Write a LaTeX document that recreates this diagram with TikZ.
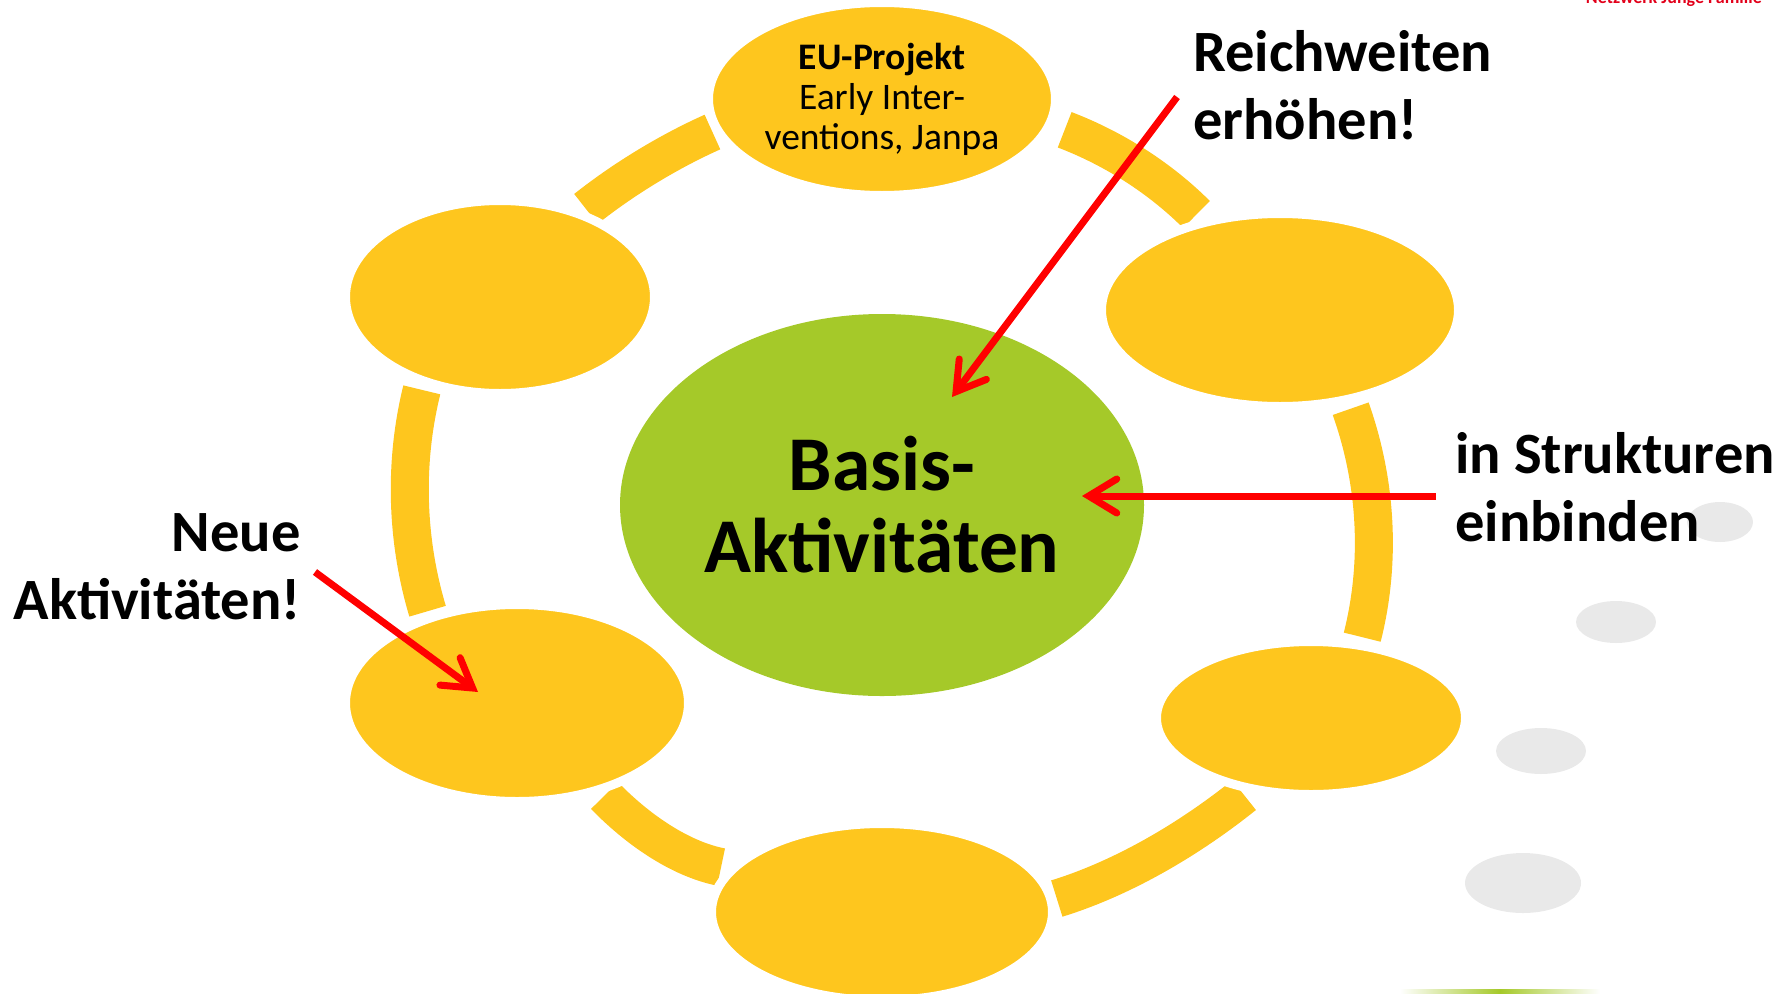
\documentclass[tikz,border=0pt]{standalone}
\usepackage{fontspec}
\setmainfont{Carlito}
\usetikzlibrary{arrows.meta,shapes.geometric}
\definecolor{ringyellow}{RGB}{254,198,30}
\definecolor{basegreen}{RGB}{165,201,41}
\definecolor{arrowred}{RGB}{255,0,0}
\definecolor{shadowgray}{RGB}{233,233,233}
\definecolor{logored}{RGB}{226,0,26}
\begin{document}
\begin{tikzpicture}[x=1pt,y=-1pt,
  petal/.style={ellipse, fill=ringyellow, draw=white, line width=9pt, inner sep=0pt, align=center},
  ringband/.style={draw=ringyellow, line width=38pt, line cap=butt, shorten <=5pt, shorten >=5pt},
  redarrow/.style={draw=arrowred, line width=7pt, -{Straight Barb[length=28pt,width=34pt,line cap=round,line join=miter]}},
  callout/.style={font=\bfseries\fontsize{58.5}{68}\selectfont, inner sep=0pt},
  dotshadow/.style={fill=shadowgray}
  ]
\useasboundingbox (0,0) rectangle (1787,993);
\clip (0,0) rectangle (1787,993);

% centres of the ring elements
\coordinate (cTop) at (882,99);
\coordinate (cUR) at (1280,310);
\coordinate (cLR) at (1311,718);
\coordinate (cBot) at (882,912);
\coordinate (cLL) at (517,703);
\coordinate (cUL) at (500,297);

% ring segment end points
\coordinate (tlA) at (582,212);  \coordinate (tlB) at (717,130);
\coordinate (trA) at (1060,128); \coordinate (trB) at (1200,218);
\coordinate (rA)  at (1349,404); \coordinate (rB)  at (1361,642);
\coordinate (brA) at (1248,792); \coordinate (brB) at (1052,900);
\coordinate (blA) at (726,868);  \coordinate (blB) at (601,792);
\coordinate (lA)  at (429,616);  \coordinate (lB)  at (423,385);

% ring segments
\draw[ringband] (tlA) .. controls (625,178) and (670,151) .. (tlB);
\draw[ringband] (trA) .. controls (1115,149) and (1161,179) .. (trB);
\draw[ringband] (rA) .. controls (1377,483) and (1381,563) .. (rB);
\draw[ringband] (brA) .. controls (1183,844) and (1117,880) .. (brB);
\draw[ringband] (blA) .. controls (685,860) and (643,835) .. (blB);
\draw[ringband] (lA) .. controls (406,539) and (404,462) .. (lB);

% petals
\node[petal, minimum width=347pt, minimum height=193pt, font=\fontsize{37.5}{40}\selectfont] (top) at (cTop)
  {\textbf{EU-Projekt}\\Early Inter-\\ventions, Janpa};
\node[petal, minimum width=309pt, minimum height=193pt] (ul) at (cUL) {};
\node[petal, minimum width=357pt, minimum height=193pt] (ur) at (cUR) {};
\node[petal, minimum width=343pt, minimum height=197pt] (ll) at (cLL) {};
\node[petal, minimum width=309pt, minimum height=153pt] (lr) at (cLR) {};
\node[petal, minimum width=341pt, minimum height=177pt] (bot) at (cBot) {};

% centre
\node[ellipse, fill=basegreen, inner sep=0pt, minimum width=524pt, minimum height=382pt,
      align=center, font=\bfseries\fontsize{77.5}{82}\selectfont] (center) at (882,505)
  {Basis-\\Aktivitäten};

% decorative grey dots
\fill[dotshadow] (1720,522) ellipse (33pt and 20pt);
\fill[dotshadow] (1616,622) ellipse (40pt and 21pt);
\fill[dotshadow] (1541,751) ellipse (45pt and 23pt);
\fill[dotshadow] (1523,883) ellipse (58pt and 30pt);

% labels (base anchor = baseline of last line)
\node[callout, anchor=base west, align=left] (lblReich) at (1193,139) {Reichweiten\\erhöhen!};
\node[callout, anchor=base west, align=left] (lblStruk) at (1455,541) {in Strukturen\\einbinden};
\node[callout, anchor=base east, align=right] (lblNeue) at (301,619) {Neue\\Aktivitäten!};

% arrows
\coordinate (rStart) at (1177,97);
\coordinate (rTip) at (952,397);
\coordinate (sStart) at (1436,496);
\coordinate (sTip) at (1082,496);
\coordinate (nStart) at (315,572);
\coordinate (nTip) at (478,692);
\draw[redarrow] (rStart) -- (rTip);
\draw[redarrow] (sStart) -- (sTip);
\draw[redarrow] (nStart) -- (nTip);

% faint green line at bottom
\shade[left color=white, right color=white, middle color=basegreen] (1400,989) rectangle (1600,993);

% cut-off logo text
\node[anchor=base east, inner sep=0pt, text=logored, font=\bfseries\fontsize{18}{20}\selectfont] (logo) at (1762,4) {Netzwerk Junge Familie};
\end{tikzpicture}
\end{document}
